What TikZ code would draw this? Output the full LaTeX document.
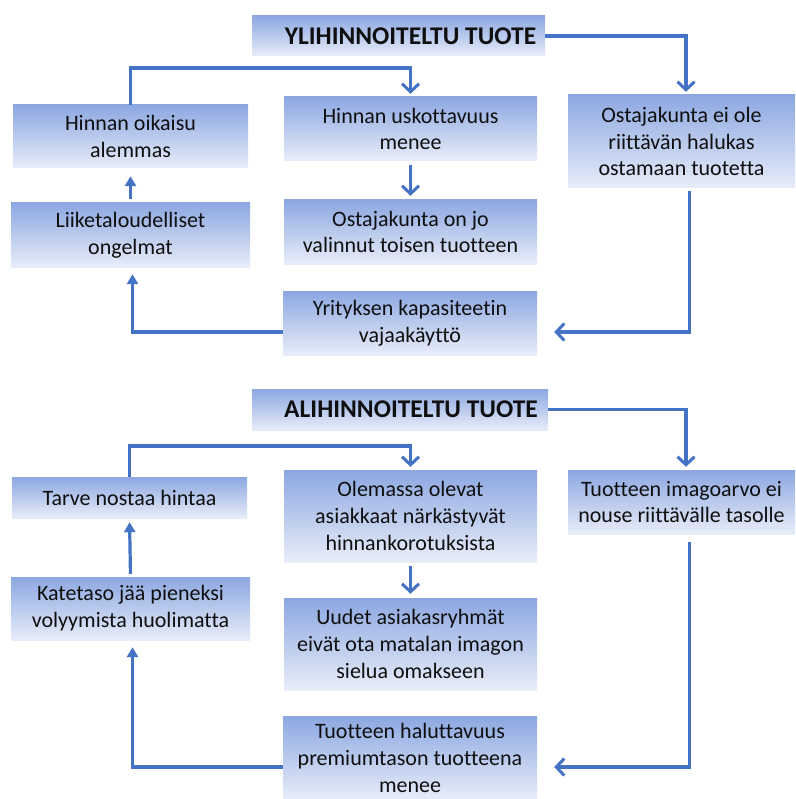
\documentclass[tikz,border=0pt]{standalone}
\usepackage{fontspec}
\setmainfont{Carlito}[Ligatures=NoCommon]
\usetikzlibrary{arrows.meta}
\definecolor{conncol}{RGB}{68,114,196}
\definecolor{boxtop}{RGB}{140,167,225}
\definecolor{boxbot}{RGB}{232,237,249}
\definecolor{txt}{RGB}{15,15,15}
\tikzset{
  box/.style={top color=boxtop, bottom color=boxbot, draw=none, inner sep=0pt,
    align=center, text=txt, font=\fontsize{22}{26.8}\selectfont},
  titlebox/.style={box, font=\fontsize{25.5}{28}\selectfont\bfseries},
  conn/.style={draw=conncol, line width=3.2pt},
  barb/.style={conn, -{Straight Barb[length=8pt,width=17pt,line width=3pt]}},
  tri/.style={conn, -{Triangle[length=10pt,width=11pt]}}
}
\begin{document}
\begin{tikzpicture}[x=1pt,y=-1pt]
\useasboundingbox (0,0) rectangle (795,799);
% ---------- top section ----------
\node[titlebox, minimum width=293pt, minimum height=40pt] (t1) at (398.5,36) {\hspace*{24pt}YLIHINNOITELTU TUOTE};
\node[box, minimum width=235pt, minimum height=63pt] (hoik) at (130.5,136.5) {Hinnan oikaisu\\alemmas};
\node[box, minimum width=253pt, minimum height=64pt] (husk) at (410.5,129) {Hinnan uskottavuus\\menee};
\node[box, minimum width=227pt, minimum height=93pt] (o1) at (681.5,141.5) {Ostajakunta ei ole\\riittävän halukas\\ostamaan tuotetta};
\node[box, minimum width=239pt, minimum height=64pt] (liik) at (130.5,235) {Liiketaloudelliset\\ongelmat};
\node[box, minimum width=253pt, minimum height=64pt] (ojo) at (410.5,232) {Ostajakunta on jo\\valinnut toisen tuotteen};
\node[box, minimum width=254pt, minimum height=64pt] (yrit) at (410,323) {Yrityksen kapasiteetin\\vajaakäyttö};

\coordinate (c1) at (130.5,68);
\draw[barb, shorten >=3pt] (t1.east) -| ([xshift=4.5pt]o1.north);
\draw[barb, shorten >=3pt] (hoik.north) -- (c1) -| (husk.north);
\draw[barb, shorten <=4pt, shorten >=4pt] (husk.south) -- (ojo.north);
\draw[barb, shorten <=3pt, shorten >=17pt] ([xshift=8pt]o1.south) |- ([yshift=-9pt]yrit.east);
\draw[tri, shorten >=7pt] ([yshift=-9pt]yrit.west) -| ([xshift=2pt]liik.south);
\draw[tri, shorten <=4pt, shorten >=8pt] (liik.north) -- (hoik.south);

% ---------- bottom section ----------
\node[titlebox, minimum width=296pt, minimum height=41pt] (t2) at (400,409.5) {\hspace*{22pt}ALIHINNOITELTU TUOTE};
\node[box, minimum width=235pt, minimum height=41pt] (tarve) at (129.5,497.5) {Tarve nostaa hintaa};
\node[box, minimum width=253pt, minimum height=92pt] (olem) at (410.5,516) {Olemassa olevat\\asiakkaat närkästyvät\\hinnankorotuksista};
\node[box, minimum width=227pt, minimum height=64pt] (imago) at (681.5,502) {Tuotteen imagoarvo ei\\nouse riittävälle tasolle};
\node[box, minimum width=239pt, minimum height=63pt] (kate) at (130.5,608.5) {Katetaso jää pieneksi\\volyymista huolimatta};
\node[box, minimum width=253pt, minimum height=92pt] (uudet) at (410.5,644) {Uudet asiakasryhmät\\eivät ota matalan imagon\\sielua omakseen};
\node[box, minimum width=254pt, minimum height=84pt] (halu) at (410,758) {Tuotteen haluttavuus\\premiumtason tuotteena\\menee};

\coordinate (c2) at (129.5,446);
\draw[barb, shorten >=3pt] (t2.east) -| ([xshift=4.5pt]imago.north);
\draw[barb, shorten >=3pt] (tarve.north) -- (c2) -| (olem.north);
\draw[barb, shorten <=4pt, shorten >=4pt] (olem.south) -- (uudet.north);
\draw[barb, shorten <=8pt, shorten >=17pt] ([xshift=8pt]imago.south) |- ([yshift=-9pt]halu.east);
\draw[tri, shorten >=7pt] ([yshift=-9pt]halu.west) -| ([xshift=2pt]kate.south);
\draw[tri, shorten <=3pt, shorten >=4pt] (kate.north) -- (tarve.south);
\end{tikzpicture}
\end{document}
